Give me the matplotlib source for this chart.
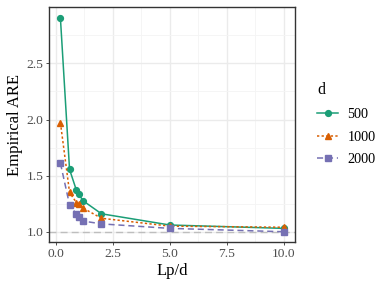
import matplotlib
matplotlib.use('Agg')
import matplotlib.pyplot as plt
from matplotlib.ticker import MultipleLocator

plt.rcParams['font.family'] = ['Liberation Serif', 'DejaVu Serif']

# Lp/d values and empirical ARE per dimension d
lp_d = [0.2, 0.6, 0.9, 1.0, 1.2, 2.0, 5.0, 10.0]
are_500 = [2.90, 1.555, 1.37, 1.335, 1.275, 1.16, 1.06, 1.03]
are_1000 = [1.97, 1.35, 1.26, 1.25, 1.21, 1.12, 1.05, 1.04]
are_2000 = [1.61, 1.24, 1.155, 1.13, 1.095, 1.07, 1.03, 1.00]
d_labels = ['500', '1000', '2000']

colors = ['#1B9E77', '#D95F02', '#7570B3']
markers = ['o', '^', 's']
styles = ['-', (0, (1.5, 1.5)), (0, (4, 2.5))]

fig = plt.figure(figsize=(3.88, 2.91), dpi=100)
ax = fig.add_axes([0.127, 0.167, 0.633, 0.808])

ax.axhline(1.0, color='#BEBEBE', linestyle=(0, (5, 3)), linewidth=1.0, zorder=1)

handles = []
for ys, lab, c, m, ls in zip([are_500, are_1000, are_2000], d_labels, colors, markers, styles):
    h, = ax.plot(lp_d, ys, color=c, marker=m, linestyle=ls, linewidth=1.1,
                 markersize=4.2, label=lab, zorder=3)
    handles.append(h)

ax.set_xlim(-0.29, 10.49)
ax.set_ylim(0.905, 3.0)
ax.xaxis.set_minor_locator(MultipleLocator(1.25))
ax.yaxis.set_minor_locator(MultipleLocator(0.25))
ax.set_xticks([0, 2.5, 5, 7.5, 10])
ax.set_xticklabels(['0.0', '2.5', '5.0', '7.5', '10.0'])
ax.set_yticks([1.0, 1.5, 2.0, 2.5])
ax.set_yticklabels(['1.0', '1.5', '2.0', '2.5'])

ax.grid(which='major', color='#EBEBEB', linewidth=1.0, zorder=0)
ax.grid(which='minor', color='#F4F4F4', linewidth=0.6, zorder=0)
ax.set_axisbelow(True)
ax.tick_params(which='major', length=2.5, width=0.6, colors='#333333',
               labelcolor='#4D4D4D', labelsize=9.7, pad=1.5)
ax.tick_params(which='minor', length=0)
for s in ax.spines.values():
    s.set_color('#333333')
    s.set_linewidth(1.0)

ax.set_xlabel('Lp/d', fontsize=12, labelpad=2)
ax.set_ylabel('Empirical ARE', fontsize=12, labelpad=3)

leg = fig.legend(handles=handles, labels=d_labels, title='d', loc='upper left',
                 bbox_to_anchor=(0.785, 0.762), frameon=False, fontsize=10.3,
                 title_fontsize=11.5, handlelength=1.45, handletextpad=0.65,
                 labelspacing=0.68)
leg._legend_box.align = 'left'
leg._legend_box.sep = 7

fig.savefig('out.png', dpi=100)
